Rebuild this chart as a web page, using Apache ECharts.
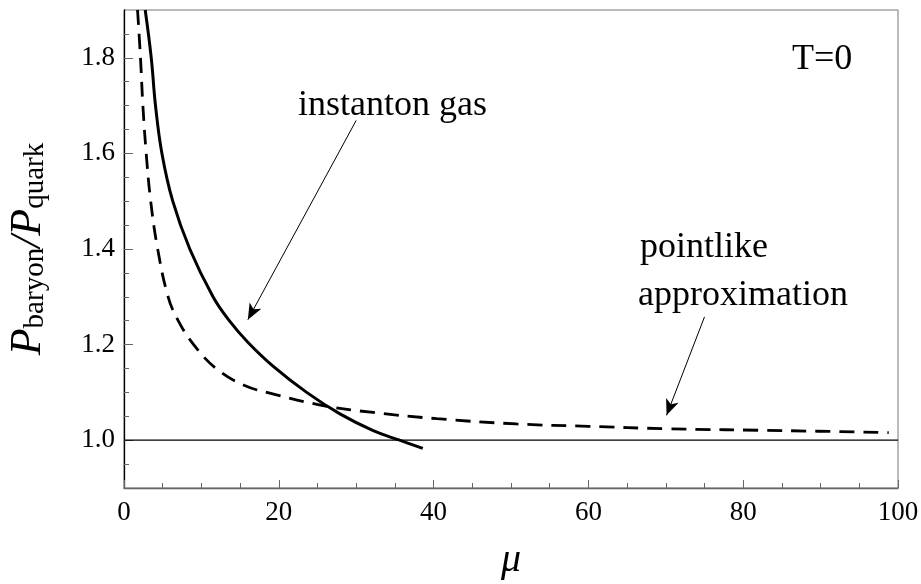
<!DOCTYPE html>
<html>
<head>
<meta charset="utf-8">
<script src="https://cdn.jsdelivr.net/npm/echarts@6/dist/echarts.min.js"></script>
<style>
  html, body { margin: 0; padding: 0; background: #fff; }
  #chart { width: 921px; height: 584px; }
</style>
</head>
<body>
<div id="chart"></div>
<script>
// values
const instantonGas = [
  [2.74, 1.9], [3.52, 1.8], [4.07, 1.7], [4.9, 1.6], [6.3, 1.5],
  [8.5, 1.4], [11.5, 1.3], [13.6, 1.25], [16.0, 1.205],
  [19.25, 1.155], [23.6, 1.1], [27.9, 1.055],
  [32.2, 1.02], [35.6, 1.0], [38.6, 0.983]
];
const pointlike = [
  [1.75, 1.9], [2.13, 1.8], [2.44, 1.7], [2.87, 1.6], [3.45, 1.5],
  [4.35, 1.4], [5.7, 1.3], [7.0, 1.25], [9.0, 1.2], [11.9, 1.15],
  [15.5, 1.115], [19.7, 1.095], [26.2, 1.071], [32.2, 1.058],
  [40.4, 1.045], [50.7, 1.034], [60, 1.029], [70.1, 1.024],
  [85.2, 1.02], [98.8, 1.016]
];
const unitLine = [[0, 1], [100, 1]];

const yMajorTicks = [1.0, 1.2, 1.4, 1.6, 1.8];
const yMinorTicks = [0.95, 1.05, 1.1, 1.15, 1.25, 1.3, 1.35, 1.45, 1.5, 1.55,
                     1.65, 1.7, 1.75, 1.85];

const serif = "'Liberation Serif', 'Times New Roman', serif";

const chart = echarts.init(document.getElementById('chart'));

const yBase = {
  type: 'value',
  min: 0.9,
  max: 1.9,
  position: 'left',
  splitLine: { show: false }
};

chart.setOption({
  animation: false,
  backgroundColor: '#fff',
  grid: {
    left: 124, right: 23, top: 10, bottom: 96,
    outerBoundsMode: 'none',
    show: true, borderColor: '#777', borderWidth: 1
  },
  xAxis: {
    type: 'value',
    min: 0, max: 100, interval: 20,
    name: 'μ',
    nameLocation: 'middle',
    nameGap: 52,
    nameTextStyle: { fontFamily: serif, fontStyle: 'italic', fontSize: 40, color: '#000' },
    axisLine: { lineStyle: { color: '#666', width: 1.3 } },
    axisTick: { inside: true, length: 8, lineStyle: { color: '#666', width: 1 } },
    minorTick: { show: true, splitNumber: 4, length: 5, lineStyle: { color: '#666', width: 1 } },
    splitLine: { show: false },
    axisLabel: { fontFamily: serif, fontSize: 27, color: '#000', margin: 11 }
  },
  yAxis: [
    Object.assign({}, yBase, {
      axisLine: { show: true, lineStyle: { color: '#000', width: 1.3 } },
      axisTick: { show: true, inside: true, length: 5, customValues: yMinorTicks,
                  lineStyle: { color: '#666', width: 1 } },
      axisLabel: { show: false }
    }),
    Object.assign({}, yBase, {
      name: '{p|P}{s|baryon}{p|/P}{s|quark}',
      nameLocation: 'middle',
      nameGap: 74,
      nameRotate: 90,
      nameTextStyle: {
        rich: {
          p: { fontFamily: serif, fontStyle: 'italic', fontSize: 44, color: '#000', lineHeight: 44 },
          s: { fontFamily: serif, fontSize: 29, color: '#000', lineHeight: 20, verticalAlign: 'bottom' }
        }
      },
      axisLine: { show: false },
      axisTick: { show: true, inside: true, length: 9, customValues: yMajorTicks,
                  lineStyle: { color: '#666', width: 1 } },
      axisLabel: {
        fontFamily: serif, fontSize: 27, color: '#000', margin: 9,
        customValues: yMajorTicks,
        formatter: v => v.toFixed(1)
      }
    })
  ],
  series: [
    {
      name: 'unit',
      type: 'line',
      data: unitLine,
      symbol: 'none',
      lineStyle: { color: '#000', width: 1.3 },
      z: 1
    },
    {
      name: 'pointlike approximation',
      type: 'line',
      data: pointlike,
      symbol: 'none',
      smooth: 0.4,
      lineStyle: { color: '#000', width: 2.8, type: [15, 9] },
      markLine: {
        silent: true,
        symbol: ['none', 'arrow'],
        symbolSize: [10, 16],
        label: { show: false },
        lineStyle: { color: '#000', width: 1, type: 'solid' },
        data: [[{ coord: [75.0, 1.258] }, { coord: [70.1, 1.052] }]]
      }
    },
    {
      name: 'instanton gas',
      type: 'line',
      data: instantonGas,
      symbol: 'none',
      smooth: 0.4,
      lineStyle: { color: '#000', width: 3 },
      markLine: {
        silent: true,
        symbol: ['none', 'arrow'],
        symbolSize: [10, 16],
        label: { show: false },
        lineStyle: { color: '#000', width: 1, type: 'solid' },
        data: [[{ coord: [30.0, 1.669] }, { coord: [16.0, 1.252] }]]
      }
    }
  ],
  graphic: [
    { type: 'text', left: 792, top: 42,
      style: { text: 'T=0', fontFamily: serif, fontSize: 36, fill: '#000' } },
    { type: 'text', left: 298, top: 88,
      style: { text: 'instanton gas', fontFamily: serif, fontSize: 36, fill: '#000' } },
    { type: 'text', left: 640, top: 230,
      style: { text: 'pointlike', fontFamily: serif, fontSize: 36, fill: '#000' } },
    { type: 'text', left: 638, top: 278,
      style: { text: 'approximation', fontFamily: serif, fontSize: 36, fill: '#000' } }
  ]
});
</script>
</body>
</html>
